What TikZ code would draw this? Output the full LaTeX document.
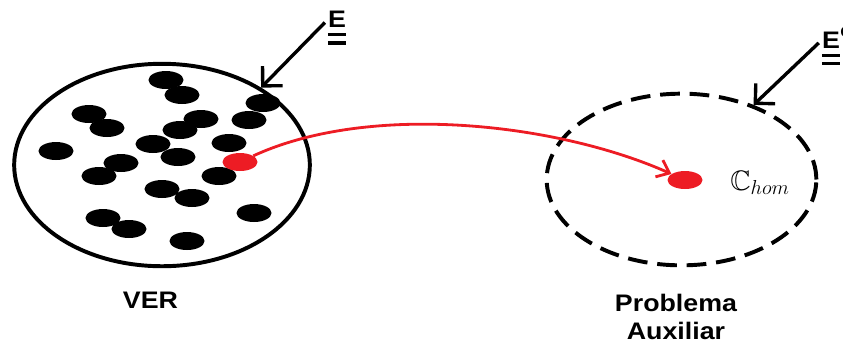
\documentclass[tikz,border=0pt]{standalone}
\usepackage{amssymb}
\usepackage{fontspec}
\newfontfamily\paintfont[FakeStretch=1.12]{Liberation Sans}
\usepackage{tikz}
\usetikzlibrary{shapes, arrows.meta, positioning}
\definecolor{paintred}{RGB}{237, 28, 36}
% two thick bars under a set label
\newcommand{\dbars}[1]{%
  \draw[line width=2.4pt] ([yshift=-0.17cm]#1.south west) -- ([yshift=-0.17cm]#1.south east);
  \draw[line width=2.4pt] ([yshift=-0.37cm]#1.south west) -- ([yshift=-0.37cm]#1.south east);}

\begin{document}
\begin{tikzpicture}[
    x=0.025cm, y=-0.025cm,
    set/.style={ellipse, draw, line width=2.8pt, inner sep=0pt},
    blob/.style={ellipse, fill=black, minimum width=0.875cm, minimum height=0.45cm, inner sep=0pt},
    lbl/.style={font=\paintfont\bfseries\fontsize{17}{20}\selectfont, inner sep=0pt},
    elbl/.style={font=\paintfont\bfseries\fontsize{17}{20}\selectfont, inner sep=0pt},
    ptr/.style={line width=2.4pt, -{Straight Barb[length=10pt, width=20pt]}},
    redptr/.style={paintred, line width=2pt, -{Straight Barb[length=8pt, width=13pt]}}
]
    \useasboundingbox (0,0) rectangle (843,351);

    % the two sets
    \node[set, minimum width=7.39cm, minimum height=5.06cm] (ver) at (162,165) {};
    \node[set, dash pattern=on 14pt off 7pt, minimum width=6.74cm, minimum height=4.29cm] (aux) at (681.5,179.5) {};

    % points of VER
    \foreach \p [count=\i] in {(166,80), (182,95), (89,114), (107,128), (263,103), (249,120), (201,119),
        (180,130), (56,151), (153,144), (178,157), (229,143), (121,163), (99,176), (219,176),
        (162,189), (192,198), (254,213), (103,218), (129,229), (187,241)}
        \node[blob] (d\i) at \p {};

    % red points and the map
    \node[blob, fill=paintred] (src) at (240,162) {};
    \node[blob, fill=paintred] (tgt) at (685,180) {};
    \draw[redptr] (src) .. controls (370,102) and (557,123) .. (tgt);

    \node[anchor=base west, inner sep=0pt, font=\fontsize{20}{24}\selectfont] (chom) at (730,190) {$\mathbb{C}_{hom}$};

    % set labels
    \node[elbl] (E) at (337,19.5) {E};
    \dbars{E}
    \draw[ptr, shorten <=3pt] (E.west) -- (ver.38);

    \node[elbl] (Ec) at (831,40) {E};
    \node[elbl, font=\paintfont\bfseries\fontsize{11}{13}\selectfont, anchor=north west] (Csup) at ([yshift=0.12cm]Ec.north east) {C};
    \dbars{Ec}
    \draw[ptr, shorten <=3pt] (Ec.west) -- (aux.46);

    % names
    \node[lbl, anchor=base] (verlab) at (150.5,308) {VER};
    \node[lbl, align=center] (problab) at (676,317) {Problema\\Auxiliar};
\end{tikzpicture}
\end{document}
